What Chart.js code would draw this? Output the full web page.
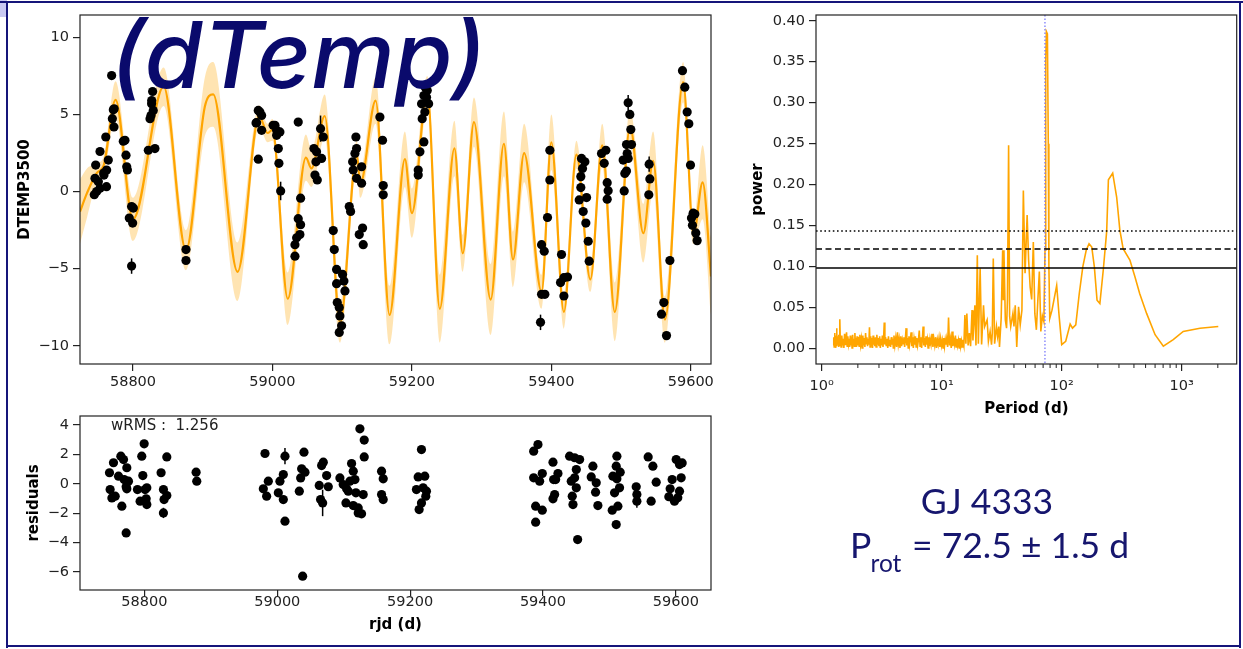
<!DOCTYPE html>
<html>
<head>
<meta charset="utf-8">
<title>GJ 4333 dTemp</title>
<script src="https://cdn.jsdelivr.net/npm/chart.js@4.4.1/dist/chart.umd.min.js"></script>
<style>
html,body{margin:0;padding:0;background:#fff;}
#page{position:relative;width:1243px;height:649px;overflow:hidden;background:#fff;}
.pos{position:absolute;}
canvas{display:block;}
</style>
</head>
<body>
<div id="page">
  <div class="pos" style="left:0;top:0;width:7px;height:17px;background:#c9c9f2;"></div>
  <div class="pos" style="left:0;top:1px;width:1243px;height:2px;background:#15157a;"></div>
  <div class="pos" style="left:6px;top:1px;width:2px;height:647px;background:#15157a;"></div>
  <div class="pos" style="left:1239px;top:1px;width:2px;height:647px;background:#15157a;"></div>
  <div class="pos" style="left:6px;top:645px;width:1235px;height:2px;background:#15157a;"></div>
  <canvas id="cTop" class="pos" width="740" height="400" style="left:0;top:0"></canvas>
  <canvas id="cRes" class="pos" width="740" height="249" style="left:0;top:400px"></canvas>
  <canvas id="cPg" class="pos" width="503" height="420" style="left:740px;top:0"></canvas>
  <canvas id="ov" class="pos" width="1243" height="649" style="left:0;top:0"></canvas>
</div>
<script>
// ---------------- DATA ----------------
const timeTicks = [58800, 59000, 59200, 59400, 59600];
const topYTicks = [-10, -5, 0, 5, 10];
const resYTicks = [-6, -4, -2, 0, 2, 4];
const powerTicks = [0, 0.05, 0.10, 0.15, 0.20, 0.25, 0.30, 0.35, 0.40];
const periodTicks = [1, 10, 100, 1000];
const periodTickLabels = ['10\u2070', '10\u00B9', '10\u00B2', '10\u00B3'];

// dTemp observations
const topDates = [58744.5,58745.5,58746.5,58747.9,58750.3,58752.7,58752.7,58758.0,58758.4,58761.0,58762.2,58762.0,58764.6,58769.4,58770.4,58771.8,58772.7,58773.0,58786.1,58788.5,58790.0,58791.0,58792.0,58798.0,58800.5,58794.7,58799.5,58798.0,58822.0,58824.4,58825.8,58826.7,58828.2,58829.1,58826.8,58831.5,58876.0,58876.0,58976.5,58977.3,58979.7,58979.7,58982.0,58984.5,58984.5,59001.0,59003.6,59006.0,59006.0,59010.7,59008.4,59009.3,59011.8,59032.3,59032.3,59034.7,59037.0,59037.0,59039.4,59040.4,59040.4,59059.5,59061.0,59062.4,59063.3,59064.3,59069.0,59070.5,59072.9,59087.2,59088.7,59092.0,59092.0,59093.0,59095.8,59095.8,59096.8,59099.2,59100.6,59102.5,59104.0,59110.2,59112.1,59115.0,59115.9,59118.3,59119.7,59120.7,59120.7,59124.5,59127.9,59127.9,59129.3,59130.2,59154.1,59157.9,59158.9,59158.9,59209.1,59209.1,59211.5,59213.9,59214.8,59217.2,59217.2,59218.6,59219.0,59221.0,59222.0,59224.0,59384.5,59386.0,59386.0,59389.8,59390.7,59394.5,59397.9,59397.9,59413.2,59414.6,59418.0,59418.0,59423.2,59440.0,59442.3,59442.3,59443.3,59444.7,59445.7,59448.1,59449.5,59450.5,59452.9,59454.3,59472.0,59475.8,59478.2,59480.1,59480.1,59481.5,59503.0,59504.5,59505.4,59507.8,59507.8,59508.8,59510.2,59510.2,59512.6,59514.0,59515.0,59539.8,59540.3,59541.3,59558.0,59561.3,59565.2,59570.0,59588.1,59591.4,59594.8,59597.2,59599.6,59601.0,59602.4,59603.4,59605.8,59607.2,59609.1];
const topValues = [-0.2,0.86,1.72,0.0,0.64,0.21,2.6,1.2,1.07,3.54,1.4,0.32,2.04,7.52,4.73,5.3,4.19,5.37,3.27,3.33,2.36,1.61,1.4,-0.97,-1.07,-1.72,-2.04,-4.83,2.68,4.73,4.94,5.69,6.49,5.26,5.9,2.79,-3.76,-4.47,4.45,4.47,2.1,5.26,5.16,4.94,3.97,4.3,4.3,3.97,3.65,3.87,2.79,1.83,0.04,-3.44,-4.19,-3.0,4.51,-1.76,-2.79,-0.43,-2.15,2.79,1.07,1.93,2.58,0.75,4.08,2.15,3.54,-2.53,-3.76,-5.05,-5.97,-7.2,-7.52,-9.13,-8.06,-8.7,-5.37,-5.8,-6.44,-0.97,-1.29,1.93,1.4,2.47,3.54,2.79,0.86,-2.79,1.61,0.54,-2.36,-3.44,4.83,3.33,0.39,-0.21,1.4,1.07,2.58,5.69,4.73,3.22,6.23,5.16,6.77,6.12,6.55,5.7,-8.48,-3.44,-6.66,-3.87,-6.66,-1.68,2.68,0.75,-5.9,-4.08,-5.58,-6.77,-5.54,-0.54,0.97,0.26,2.15,1.5,-1.29,1.93,-2.04,-0.39,-3.22,-4.51,2.47,1.83,2.68,0.58,-0.49,0.06,2.04,0.04,1.18,3.05,1.33,2.47,5.76,2.15,5.0,4.02,3.05,-0.21,1.78,0.82,-7.95,-7.2,-9.34,-4.47,7.84,6.77,5.16,4.4,1.72,-1.72,-2.19,-1.4,-1.46,-2.68,-3.18];
const topErrDates = [59069.0, 59011.8, 58798.0, 59384.5, 59510.2, 59540.3];
const topErrValues = [4.08, 0.04, -4.83, -8.48, 5.76, 1.78];
const topErrSizes = [0.85, 0.6, 0.5, 0.5, 0.5, 0.5];

// GP model (mean and 1-sigma)
const gpDates = [58724,58734,58748,58758,58775,58800,58844,58876,58903,58915,58950,58981,58993,59000,59022,59048,59056,59075,59097,59121,59126,59148,59168,59190,59200,59222,59240,59261,59273,59289,59313,59332,59345,59361,59386,59400,59418,59436,59456,59473,59491,59513,59532,59546,59563,59589,59604,59617,59629];
const gpMean = [-1.3,-0.1,1.2,1.7,5.95,-1.8,6.8,-3.8,5.5,6.3,-5.2,4.9,3.8,4.0,-6.95,2.2,1.5,4.9,-8.5,2.4,0.5,5.9,-8.0,2.1,-1.4,6.5,-7.6,2.8,-4.0,4.5,-7.0,3.1,-4.4,2.5,-6.5,3.2,-7.8,2.4,-5.7,3.0,-7.8,4.2,-2.7,2.0,-8.3,7.1,-2.8,0.6,-5.5];
const gpStd = [2.1,1.6,0.6,0.6,1.2,1.4,1.25,1.3,1.9,2.1,1.9,0.7,0.6,0.7,1.7,1.5,1.2,1.4,1.3,0.9,0.9,1.5,1.9,1.8,1.6,1.0,2.2,1.8,1.2,1.6,2.3,2.1,1.8,1.9,1.1,1.8,1.1,0.9,0.8,1.4,1.9,1.1,1.9,1.9,1.5,1.3,0.6,2.4,2.5];

// residuals
const resDates = [58747.4,58753.4,58748.4,58751.0,58756.0,58761.0,58764.5,58768.5,58766.0,58769.5,58772.5,58773.5,58776.0,58772.5,58773.5,58789.5,58793.5,58796.0,58797.6,58799.6,58801.0,58802.6,58803.6,58803.6,58825.1,58828.6,58829.6,58828.6,58833.7,58833.7,58877.8,58878.8,58981.5,58979.0,58984.0,58986.5,59001.6,59004.0,59009.1,59011.6,59009.1,59011.6,59033.2,59035.2,59036.7,59040.2,59041.7,59038.2,59063.2,59066.8,59069.3,59065.2,59068.3,59074.3,59076.8,59094.3,59099.3,59104.4,59109.4,59111.9,59114.4,59103.4,59106.9,59116.9,59118.4,59114.4,59121.9,59124.4,59130.9,59130.9,59126.9,59121.9,59129.4,59157.0,59159.5,59157.0,59159.5,59217.1,59212.1,59222.1,59209.5,59224.6,59219.6,59217.1,59213.6,59223.6,59386.0,59392.5,59386.0,59399.0,59395.0,59389.0,59399.0,59389.0,59415.1,59416.1,59422.6,59419.1,59415.1,59417.6,59440.1,59447.7,59455.2,59450.2,59447.7,59442.6,59450.2,59444.1,59445.2,59452.2,59475.2,59472.7,59480.2,59479.2,59482.7,59511.3,59510.3,59516.3,59505.3,59511.3,59515.3,59507.8,59504.3,59512.8,59510.3,59540.4,59541.4,59541.4,59558.4,59565.5,59570.5,59562.9,59600.6,59605.6,59609.6,59594.5,59608.1,59591.5,59605.6,59589.5,59598.0,59603.0];
const resValues = [0.75,1.43,-0.39,-0.96,-0.84,0.52,1.88,1.65,-1.52,0.29,-0.20,1.09,0.18,-3.34,-0.34,-0.39,-1.18,1.88,0.56,2.72,-0.39,-1.02,-0.27,-1.41,0.75,-0.39,-1.07,-1.98,1.83,-0.80,0.79,0.18,2.06,-0.34,-0.84,0.18,-0.61,0.18,0.63,1.88,-1.07,-2.54,-0.50,0.40,1.02,2.15,0.79,-6.28,-0.11,1.24,1.47,-1.07,-1.30,0.56,-0.20,0.40,-0.05,-0.34,0.18,1.38,0.86,-1.30,-0.50,0.29,-0.61,-1.48,-1.64,3.74,2.97,1.83,-2.04,-1.98,-0.73,0.86,0.34,-0.73,-1.07,2.33,0.47,0.52,-0.39,-0.50,-0.27,-1.30,-1.75,-0.84,2.22,2.67,0.41,0.70,0.18,-1.52,-1.79,-2.61,1.47,0.29,0.70,0.29,-1.02,-0.73,1.88,1.77,1.65,0.97,0.41,0.18,-0.27,-0.84,-1.41,-3.79,1.20,0.47,0.07,-0.57,-1.48,1.88,1.20,0.79,0.52,0.34,-0.27,-0.61,-1.79,-1.52,-2.77,-0.20,-0.73,-1.18,1.83,1.20,0.11,-1.18,1.65,1.31,1.42,0.29,0.41,-0.34,-0.50,-0.88,-1.18,-0.95];
const resErrDates = [59011.6, 59068.3, 59541.4, 58828.6];
const resErrValues = [1.88, -1.30, -1.18, -1.98];
const resErrSizes = [0.55, 0.9, 0.45, 0.35];
const wrms = 1.256;

// periodogram
const pgPeriod = [1.25,1.26,1.27,1.28,1.29,1.30,1.31,1.32,1.33,1.34,1.35,1.36,1.37,1.38,1.39,1.40,1.41,1.42,1.43,1.44,1.45,
1.47,1.49,1.51,1.53,1.55,1.57,1.59,1.61,1.63,1.65,1.67,1.69,1.71,1.73,1.75,1.77,1.79,1.81,1.83,1.85,1.87,1.89,1.91,1.93,1.95,1.97,1.99,
2.02,2.05,2.08,2.11,2.14,2.17,2.20,2.23,2.26,2.29,2.32,2.35,2.38,2.41,2.44,2.47,2.50,2.53,2.56,2.59,2.62,2.65,2.68,2.71,2.74,2.77,2.80,
2.84,2.88,2.92,2.96,3.00,3.04,3.08,3.12,3.16,3.20,3.24,3.28,3.32,3.36,3.40,
3.45,3.50,3.55,3.60,3.65,3.70,3.75,3.80,3.85,3.90,3.95,4.00,
4.07,4.14,4.21,4.28,4.35,4.42,4.49,4.56,4.63,4.70,4.77,4.84,4.91,4.98,5.05,5.12,5.19,5.26,5.33,5.40,
5.48,5.56,5.64,5.72,5.80,5.88,5.96,6.04,6.12,6.20,
6.30,6.40,6.50,6.60,6.70,6.80,6.90,7.00,7.10,7.20,7.30,7.40,7.50,7.60,7.70,7.80,7.90,8.00,
8.15,8.30,8.45,8.60,8.75,8.90,9.05,9.20,9.35,9.50,9.65,9.80,9.95,10.1,10.25,10.4,10.55,10.7,10.85,11.0,
11.2,11.4,11.6,11.8,12.0,12.2,12.4,12.6,12.8,13.0,13.2,13.4,13.6,13.8,14.0,14.2,14.4,14.6,14.8,15.0,
15.3,15.6,15.9,
16.2,16.6,17.0,17.4,17.9,18.2,18.9,19.3,19.8,20.2,20.9,21.5,22.3,22.8,23.9,24.5,25.3,26.0,26.4,26.9,27.6,28.6,29.2,29.9,30.3,31.3,32.2,32.6,33.0,33.9,34.7,35.3,36.1,36.8,37.6,39.2,40.0,41.0,42.2,43.7,45.1,46.6,47.9,49.5,51.5,53.0,54.6,56.2,58.0,59.7,61.5,63.3,65.1,67.0,69.0,71.0,72.6,73.6,74.5,76.0,77.3,78.2,79.5,83.0,90.8,95.0,100,108,117.6,123,131,140,150,160,169,178,187,197,208,222,237,245,266,287,305,325,370,407,447,510,600,703,850,1030,1420,2018];
const pgPower = [0.004,0.014,0.002,0.019,0.006,0.012,0.001,0.016,0.025,0.003,0.015,0.005,0.013,0.002,0.017,0.004,0.011,0.036,0.006,0.014,0.002,
0.016,0.004,0.012,0.001,0.018,0.005,0.013,0.020,0.003,0.015,0.006,0.012,0.002,0.016,0.004,0.014,0.001,0.017,0.005,0.012,0.003,0.019,0.006,0.013,0.002,0.015,0.004,
0.014,0.003,0.017,0.005,0.012,0.001,0.016,0.004,0.013,0.002,0.019,0.006,0.014,0.003,0.012,0.005,0.026,0.002,0.015,0.004,0.013,0.001,0.016,0.005,0.012,0.003,0.014,
0.002,0.017,0.005,0.013,0.003,0.015,0.001,0.012,0.004,0.016,0.002,0.013,0.032,0.005,0.014,
0.003,0.012,0.001,0.015,0.004,0.011,0.002,0.014,0.005,0.012,0.001,0.016,
0.004,0.013,0.002,0.020,0.005,0.012,0.001,0.015,0.003,0.011,0.006,0.014,0.002,0.012,0.025,0.004,0.013,0.001,0.015,0.005,
0.012,0.020,0.003,0.014,0.001,0.012,0.005,0.015,0.002,0.013,
0.004,0.011,0.022,0.003,0.014,0.001,0.012,0.027,0.004,0.013,0.002,0.015,0.005,0.011,0.001,0.014,0.003,0.012,
0.005,0.018,0.002,0.012,0.004,0.014,0.001,0.011,0.005,0.013,0.002,0.012,0.004,0.010,0.001,0.013,0.003,0.011,0.005,0.012,
0.002,0.038,0.004,0.012,0.001,0.021,0.003,0.011,0.005,0.016,0.002,0.012,0.004,0.010,0.001,0.013,0.003,0.009,0.002,0.011,
0.004,0.041,0.006,
0.043,0.004,0.019,0.003,0.047,0.010,0.053,0.004,0.114,0.006,0.098,0.005,0.053,0.027,0.035,0.009,0.021,0.005,0.019,0.110,0.006,0.027,0.015,0.027,0.002,0.037,0.120,0.060,0.120,0.035,0.025,0.060,0.248,0.040,0.027,0.043,0.027,0.053,0.002,0.051,0.029,0.047,0.193,0.092,0.163,0.108,0.075,0.060,0.130,0.043,0.023,0.060,0.094,0.021,0.040,0.033,0.120,0.350,0.387,0.384,0.250,0.100,0.037,0.047,0.077,0.041,0.005,0.009,0.030,0.025,0.029,0.067,0.100,0.120,0.128,0.124,0.100,0.059,0.055,0.096,0.143,0.206,0.214,0.185,0.145,0.122,0.108,0.088,0.067,0.043,0.017,0.003,0.011,0.021,0.025,0.027];
const fapLevels = [0.1435, 0.1216, 0.0984];
const fapDash = [[1.6, 2.6], [6, 3.5], []];
const protDays = 72.5;

// ---------------- STYLE / HELPERS ----------------
const FONT = 'DejaVu Sans';
const tickFont = {family: FONT, size: 14.5};
const titleFont = {family: FONT, size: 15, weight: 'bold'};
const INK = '#222';

function axisBase() {
  return {
    grid: {display: true, drawOnChartArea: false, drawTicks: true, tickLength: 7, color: INK, lineWidth: 1.2},
    border: {display: false},
    ticks: {font: tickFont, color: INK, autoSkip: false, maxRotation: 0, minRotation: 0}
  };
}
function fmtNum(v) { return v < 0 ? '\u2212' + Math.abs(v) : String(v); }

const boxPlugin = {
  id: 'box',
  afterDraw(chart) {
    const {ctx, chartArea: a} = chart;
    ctx.save();
    ctx.strokeStyle = INK; ctx.lineWidth = 1.2;
    ctx.strokeRect(a.left, a.top, a.right - a.left, a.bottom - a.top);
    ctx.restore();
  }
};
function errPlugin(dates, vals, errs) {
  return {
    id: 'errbars',
    afterDatasetsDraw(chart) {
      const {ctx, scales: {x, y}} = chart;
      ctx.save();
      ctx.strokeStyle = '#000'; ctx.lineWidth = 1.5;
      for (let i = 0; i < dates.length; i++) {
        const px = x.getPixelForValue(dates[i]);
        ctx.beginPath();
        ctx.moveTo(px, y.getPixelForValue(vals[i] - errs[i]));
        ctx.lineTo(px, y.getPixelForValue(vals[i] + errs[i]));
        ctx.stroke();
      }
      ctx.restore();
    }
  };
}

// ---------------- TOP PANEL ----------------
(function () {
  const xs = axisBase(), ys = axisBase();
  Object.assign(xs, {type: 'linear', min: 58724, max: 59629,
    afterBuildTicks: s => { s.ticks = timeTicks.map(v => ({value: v})); },
    afterFit: s => { s.height = 36; }});
  xs.ticks.padding = 3; xs.ticks.callback = v => String(v);
  Object.assign(ys, {type: 'linear', min: -11.18, max: 11.45,
    afterBuildTicks: s => { s.ticks = topYTicks.map(v => ({value: v})); },
    afterFit: s => { s.width = 80; },
    title: {display: true, text: 'DTEMP3500', font: titleFont, color: '#000', padding: {top: 16, bottom: 0}}});
  ys.ticks.padding = 4; ys.ticks.callback = v => fmtNum(v);

  new Chart(document.getElementById('cTop'), {
    type: 'line',
    data: {datasets: [
      {type: 'scatter', data: topDates.map((d, i) => ({x: d, y: topValues[i]})),
       backgroundColor: '#000', borderColor: '#000', pointRadius: 4.6, borderWidth: 0, order: 0},
      {data: gpDates.map((d, i) => ({x: d, y: gpMean[i]})), borderColor: '#ffa500', borderWidth: 2.2,
       pointRadius: 0, cubicInterpolationMode: 'monotone', fill: false, order: 1},
      {data: gpDates.map((d, i) => ({x: d, y: gpMean[i] + gpStd[i]})), borderColor: 'rgba(0,0,0,0)', borderWidth: 0,
       pointRadius: 0, cubicInterpolationMode: 'monotone', fill: '+1', backgroundColor: 'rgba(255,165,0,0.3)', order: 2},
      {data: gpDates.map((d, i) => ({x: d, y: gpMean[i] - gpStd[i]})), borderColor: 'rgba(0,0,0,0)', borderWidth: 0,
       pointRadius: 0, cubicInterpolationMode: 'monotone', fill: false, order: 3}
    ]},
    options: {
      responsive: false, animation: false,
      layout: {padding: {left: 0, right: 29, top: 15, bottom: 0}},
      plugins: {legend: {display: false}, tooltip: {enabled: false}},
      scales: {x: xs, y: ys}
    },
    plugins: [boxPlugin, errPlugin(topErrDates, topErrValues, topErrSizes)]
  });
})();

// ---------------- RESIDUALS PANEL ----------------
(function () {
  const xs = axisBase(), ys = axisBase();
  xs.grid.tickLength = 6;
  Object.assign(xs, {type: 'linear', min: 58703, max: 59653,
    afterBuildTicks: s => { s.ticks = timeTicks.map(v => ({value: v})); },
    afterFit: s => { s.height = 59; },
    title: {display: true, text: 'rjd (d)', font: titleFont, color: '#000', padding: {top: 0, bottom: 15}}});
  xs.ticks.padding = -2; xs.ticks.callback = v => String(v);
  Object.assign(ys, {type: 'linear', min: -7.22, max: 4.61,
    afterBuildTicks: s => { s.ticks = resYTicks.map(v => ({value: v})); },
    afterFit: s => { s.width = 80; },
    title: {display: true, text: 'residuals', font: titleFont, color: '#000', padding: {top: 25, bottom: 0}}});
  ys.ticks.padding = 4; ys.ticks.callback = v => fmtNum(v);

  new Chart(document.getElementById('cRes'), {
    type: 'scatter',
    data: {datasets: [
      {data: resDates.map((d, i) => ({x: d, y: resValues[i]})),
       backgroundColor: '#000', borderColor: '#000', pointRadius: 4.6, borderWidth: 0}
    ]},
    options: {
      responsive: false, animation: false,
      layout: {padding: {left: 0, right: 29, top: 16, bottom: 0}},
      plugins: {legend: {display: false}, tooltip: {enabled: false}},
      scales: {x: xs, y: ys}
    },
    plugins: [boxPlugin, errPlugin(resErrDates, resErrValues, resErrSizes)]
  });
})();

// ---------------- PERIODOGRAM ----------------
(function () {
  const xs = axisBase(), ys = axisBase();
  Object.assign(xs, {type: 'logarithmic', min: 0.896, max: 2873,
    afterBuildTicks: s => { s.ticks = periodTicks.map(v => ({value: v, major: true})); },
    afterFit: s => { s.height = 56; },
    title: {display: true, text: 'Period (d)', font: titleFont, color: '#000', padding: {top: 0, bottom: 2}}});
  xs.ticks.padding = 7; xs.ticks.callback = v => periodTickLabels[periodTicks.indexOf(v)];
  Object.assign(ys, {type: 'linear', min: -0.0187, max: 0.407,
    afterBuildTicks: s => { s.ticks = powerTicks.map(v => ({value: v})); },
    afterFit: s => { s.width = 76; },
    title: {display: true, text: 'power', font: titleFont, color: '#000', padding: {top: 9, bottom: 0}}});
  ys.ticks.padding = 4; ys.ticks.callback = v => v.toFixed(2);

  const pgPlugin = {
    id: 'pgExtras',
    afterDatasetsDraw(chart) {
      const {ctx, chartArea: a, scales: {x, y}} = chart;
      ctx.save();
      ctx.strokeStyle = '#000'; ctx.lineWidth = 1.5;
      fapLevels.forEach((lv, i) => {
        const py = y.getPixelForValue(lv);
        ctx.setLineDash(fapDash[i]);
        ctx.beginPath(); ctx.moveTo(a.left, py); ctx.lineTo(a.right, py); ctx.stroke();
      });
      const px = x.getPixelForValue(protDays);
      ctx.strokeStyle = 'rgba(110,110,250,0.85)'; ctx.lineWidth = 1.4; ctx.setLineDash([1.5, 2]);
      ctx.beginPath(); ctx.moveTo(px, a.top); ctx.lineTo(px, a.bottom); ctx.stroke();
      ctx.setLineDash([]);
      ctx.strokeStyle = INK; ctx.lineWidth = 1;
      for (let n = 0; n < 4; n++) {
        for (let k = 2; k <= 9; k++) {
          const v = k * Math.pow(10, n);
          if (v < x.min || v > x.max) continue;
          const mx = x.getPixelForValue(v);
          ctx.beginPath(); ctx.moveTo(mx, a.bottom); ctx.lineTo(mx, a.bottom + 4); ctx.stroke();
        }
      }
      ctx.restore();
    }
  };

  new Chart(document.getElementById('cPg'), {
    type: 'line',
    data: {datasets: [
      {data: pgPeriod.map((p, i) => ({x: p, y: pgPower[i]})), borderColor: '#ffa500', borderWidth: 1.6,
       pointRadius: 0, tension: 0, fill: false}
    ]},
    options: {
      responsive: false, animation: false,
      layout: {padding: {left: 0, right: 6.3, top: 15, bottom: 0}},
      plugins: {legend: {display: false}, tooltip: {enabled: false}},
      scales: {x: xs, y: ys}
    },
    plugins: [boxPlugin, pgPlugin]
  });
})();

// ---------------- FREE TEXT ----------------
(function () {
  const ctx = document.getElementById('ov').getContext('2d');
  ctx.fillStyle = '#0a0a6c';
  ctx.font = 'italic 500 92px Inter';
  ctx.textBaseline = 'alphabetic';
  const t = '(dTemp)';
  const m = ctx.measureText(t);
  const ink = m.actualBoundingBoxLeft + m.actualBoundingBoxRight;
  const sx = 362 / ink;
  ctx.save();
  ctx.translate(118 + m.actualBoundingBoxLeft * sx, 88);
  ctx.scale(sx, 1);
  ctx.fillText(t, 0, 0);
  ctx.restore();

  ctx.fillStyle = '#16166e';
  ctx.font = '35.5px Lato';
  ctx.textAlign = 'center';
  ctx.fillText('GJ 4333', 987, 514);
  ctx.textAlign = 'left';
  ctx.fillText('P', 850, 558);
  ctx.font = '24.5px Lato';
  ctx.fillText('rot', 870.5, 571.5);
  ctx.font = '35.5px Lato';
  ctx.fillText('= 72.5 \u00B1 1.5 d', 912, 558);

  ctx.fillStyle = INK;
  ctx.font = '15px DejaVu Sans';
  ctx.fillText('wRMS :  ' + wrms.toFixed(3), 111, 430);
})();
</script>
</body>
</html>
